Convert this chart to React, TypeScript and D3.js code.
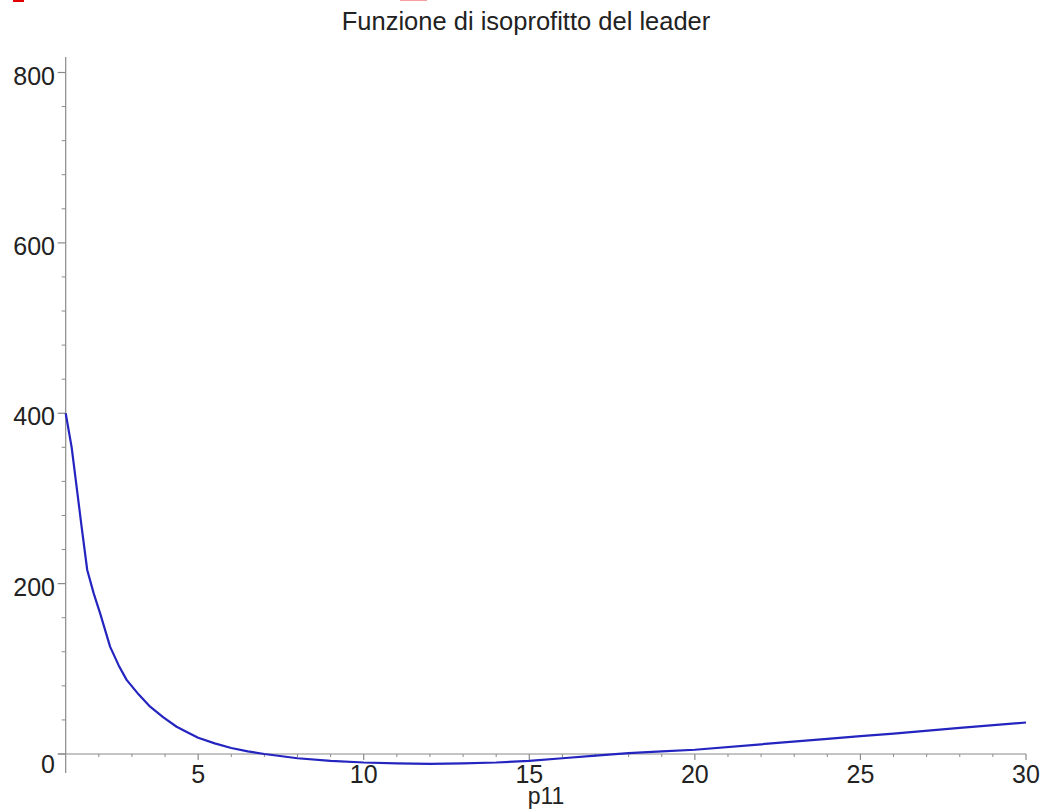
import React from "react";
import * as d3 from "d3";

const TITLE = "Funzione di isoprofitto del leader";
const X_LABEL = "p11";
const xValues = [1, 1.18, 1.48, 1.65, 1.85, 2.04, 2.34, 2.6, 2.84, 3.2, 3.55, 3.95, 4.35, 4.7, 5, 5.5, 6, 6.5, 7, 8, 9, 10, 11, 12, 13, 14, 15, 16, 17, 18, 19, 20, 22, 24, 25, 26, 28, 30];
const yValues = [400, 360, 267, 216, 188, 165, 126, 104, 87, 70, 55.5, 43, 32, 25, 19, 12.5, 7, 3, 0, -5, -8, -10, -11, -11.5, -11, -10, -8, -5, -2, 1, 3, 5, 11.4, 17.8, 21, 24, 30.6, 37];
const xMajorTicks = [5, 10, 15, 20, 25, 30];
const xMinorTicks = [2, 3, 4, 6, 7, 8, 9, 11, 12, 13, 14, 16, 17, 18, 19, 21, 22, 23, 24, 26, 27, 28, 29];
const yMajorTicks = [0, 200, 400, 600, 800];
const yMinorTicks = [40, 80, 120, 160, 240, 280, 320, 360, 440, 480, 520, 560, 640, 680, 720, 760];

export default function App() {
  const W = 1047, H = 809;
  const x = d3.scaleLinear().domain([1, 30]).range([65.7, 1026]);
  const y = d3.scaleLinear().domain([0, 800]).range([754, 72.5]);
  const pts: [number, number][] = xValues.map((v, i) => [v, yValues[i]]);
  const line = d3.line<[number, number]>().x(d => x(d[0])).y(d => y(d[1]));
  const axisColor = "#8a8a8a";
  const textColor = "#222";
  const font = "'Liberation Sans', Arial, Helvetica, sans-serif";
  const x0 = x(1);
  const y0 = y(0);
  return (
    <svg width={W} height={H} style={{ position: "absolute", left: 0, top: 0, background: "#fff" }} fontFamily={font}>
      <rect x={0} y={0} width={W} height={H} fill="#fff" />
      <rect x={13} y={0} width={11} height={2} fill="#e00000" />
      <rect x={400} y={0} width={27} height={1} fill="#f6a0a0" />
      <text x={526} y={30} textAnchor="middle" fontSize={25.5} fill={textColor}>{TITLE}</text>
      {/* y axis */}
      <line x1={x0} x2={x0} y1={57} y2={773} stroke={axisColor} strokeWidth={1.2} />
      {yMajorTicks.map(t => (
        <g key={"ym" + t}>
          <line x1={x0 - 8} x2={x0} y1={y(t)} y2={y(t)} stroke={axisColor} strokeWidth={1.2} />
          <text x={55} y={t === 0 ? y(t) + 19 : y(t) + 12} textAnchor="end" fontSize={25} fill={textColor}>{t}</text>
        </g>
      ))}
      {yMinorTicks.map(t => (
        <line key={"yn" + t} x1={x0 - 4} x2={x0} y1={y(t)} y2={y(t)} stroke={axisColor} strokeWidth={1} />
      ))}
      {/* x axis */}
      <line x1={58} x2={x(30)} y1={y0} y2={y0} stroke={axisColor} strokeWidth={1.2} />
      {xMajorTicks.map(t => (
        <g key={"xm" + t}>
          <line x1={x(t)} x2={x(t)} y1={y0} y2={y0 + 6} stroke={axisColor} strokeWidth={1.2} />
          <text x={x(t)} y={783} textAnchor="middle" fontSize={25} fill={textColor}>{t}</text>
        </g>
      ))}
      {xMinorTicks.map(t => (
        <line key={"xn" + t} x1={x(t)} x2={x(t)} y1={y0} y2={y0 + 3} stroke={axisColor} strokeWidth={1} />
      ))}
      <text x={546} y={804} textAnchor="middle" fontSize={23} fill={textColor}>{X_LABEL}</text>
      <path d={line(pts) || ""} fill="none" stroke="#2424c0" strokeWidth={2.2} strokeLinejoin="round" />
    </svg>
  );
}
